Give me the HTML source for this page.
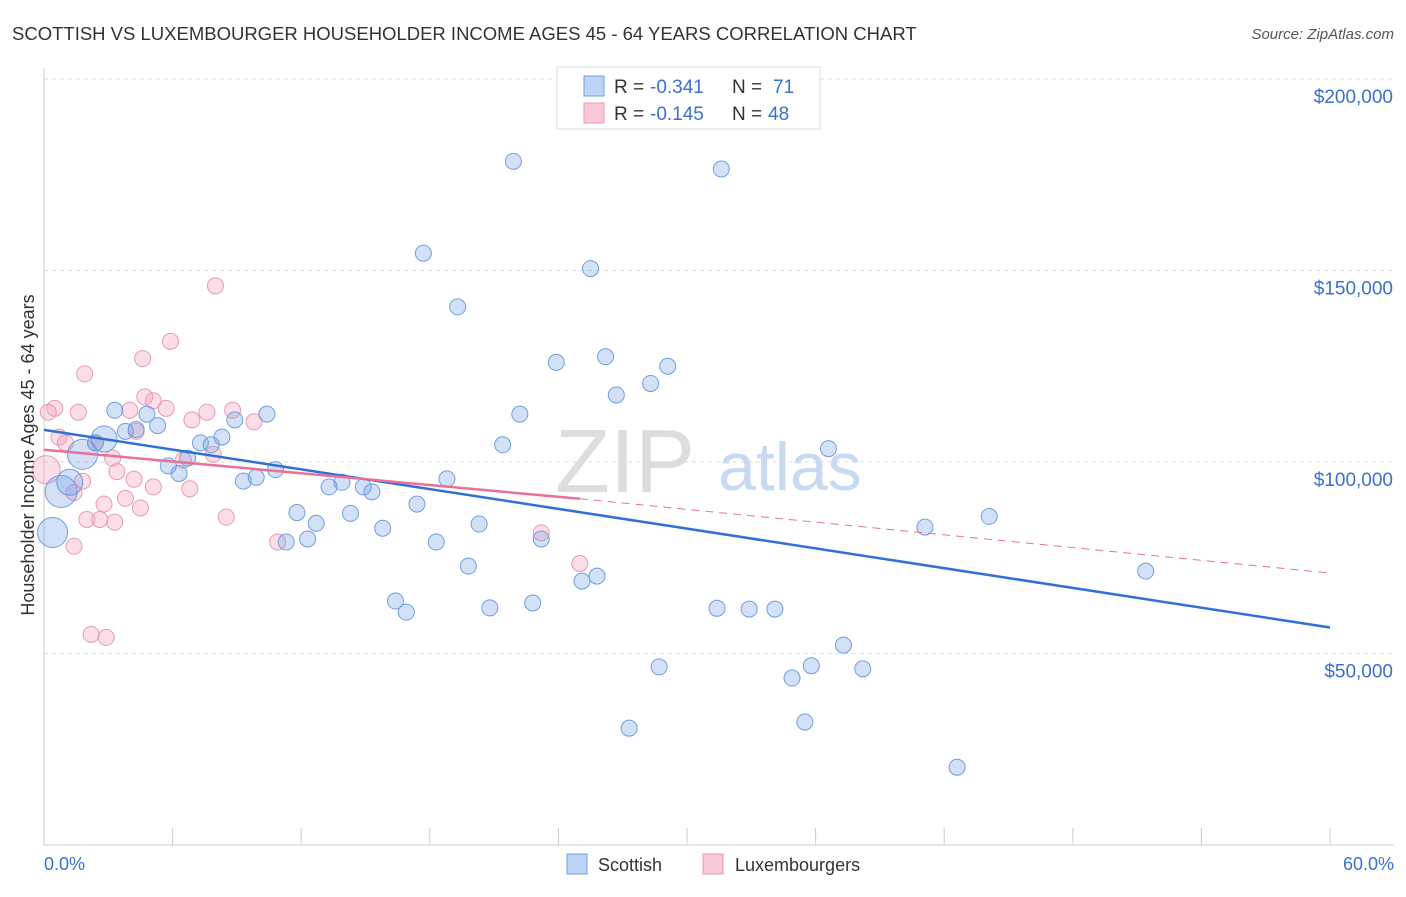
<!DOCTYPE html>
<html><head><meta charset="utf-8"><style>
body{margin:0;background:#fff;font-family:"Liberation Sans",sans-serif;}
svg text{font-family:"Liberation Sans",sans-serif;}
</style></head><body>
<svg id="chart" width="1406" height="892" xmlns="http://www.w3.org/2000/svg">
<text x="12" y="40" font-size="18.5" fill="#333">SCOTTISH VS LUXEMBOURGER HOUSEHOLDER INCOME AGES 45 - 64 YEARS CORRELATION CHART</text>
<text x="1394" y="39" font-size="15" fill="#555" text-anchor="end" font-style="italic">Source: ZipAtlas.com</text>
<g><text x="555" y="492" font-size="90" fill="#ddd" font-family="Liberation Serif">ZIP</text><text x="718" y="490" font-size="68" fill="#c8daf2">atlas</text></g>
<g id="grid"></g><g id="axes"></g><g id="pts"></g><g id="trend"></g>
<text transform="translate(34,455) rotate(-90)" font-size="18" fill="#333" text-anchor="middle">Householder Income Ages 45 - 64 years</text>
<text x="44" y="870" font-size="18" fill="#3b6fd0">0.0%</text>
<text x="1394" y="870" font-size="18" fill="#3b6fd0" text-anchor="end">60.0%</text>
<g>
<rect x="557" y="67" width="263" height="62" fill="#fff" stroke="#ddd"/>
<rect x="584" y="76" width="20" height="20" fill="#bcd4f6" stroke="#6f9fe0"/>
<text x="614" y="93" font-size="19" fill="#333">R = </text><text x="650" y="93" font-size="19" fill="#3b6fd0">-0.341</text>
<text x="732" y="93" font-size="19" fill="#333">N = </text><text x="773" y="93" font-size="19" fill="#3b6fd0">71</text>
<rect x="584" y="103" width="20" height="20" fill="#f8c8d8" stroke="#e89ab5"/>
<text x="614" y="120" font-size="19" fill="#333">R = </text><text x="650" y="120" font-size="19" fill="#3b6fd0">-0.145</text>
<text x="732" y="120" font-size="19" fill="#333">N = </text><text x="768" y="120" font-size="19" fill="#3b6fd0">48</text>
</g>
<g>
<rect x="567" y="854" width="20" height="20" fill="#bcd4f6" stroke="#6f9fe0"/>
<text x="598" y="871" font-size="18" fill="#333">Scottish</text>
<rect x="703" y="854" width="20" height="20" fill="#f8c8d8" stroke="#e89ab5"/>
<text x="735" y="871" font-size="18" fill="#333">Luxembourgers</text>
</g>
</svg>
<script>
const yTicks=[50000,100000,150000,200000];
const yTickLabels=["$50,000","$100,000","$150,000","$200,000"];
const scottishX=[21.9,31.6,17.7,25.5,19.3,23.9,26.2,29.1,28.3,26.7,22.2,21.4,36.6,10.4,8.9,4.8,3.3,5.3,3.8,4.3,2.8,2.4,1.8,7.3,7.8,8.3,6.7,5.8,6.3,10.8,9.3,9.9,13.3,13.9,14.9,15.3,18.8,17.4,11.8,12.7,14.3,15.8,11.3,12.3,18.3,20.3,23.2,19.8,25.8,25.1,16.4,16.9,20.8,22.8,31.4,32.9,34.1,37.3,28.7,35.8,38.2,34.9,35.5,27.3,42.6,41.1,44.1,51.4,1.2,0.8,0.4];
const scottishY=[178500,176500,154500,150500,140500,126000,127500,125000,120500,117500,112500,104500,103500,112500,111000,112500,113500,109500,108000,108500,106000,105000,102000,105000,104500,106500,101000,99000,97000,98000,95000,96000,93500,94700,93500,92200,95600,89000,86800,84000,86600,82700,79100,79900,79100,83800,79900,72800,70200,68900,63700,60800,61900,63200,61800,61600,61600,52200,46500,46800,46000,43600,32100,30500,20300,83000,85800,71500,94700,92300,81600];
const scottishR=[8,8,8,8,8,8,8,8,8,8,8,8,8,8,8,8,8,8,8,8,13,8,15,8,8,8,8,8,8,8,8,8,8,8,8,8,8,8,8,8,8,8,8,8,8,8,8,8,8,8,8,8,8,8,8,8,8,8,8,8,8,8,8,8,8,8,8,8,13,16,15];
const luxX=[8.0,5.9,4.6,1.9,4.7,5.1,0.5,0.2,1.6,5.7,4.0,7.6,8.8,6.9,9.8,0.7,1.0,2.4,4.3,3.2,6.5,3.4,7.9,4.2,5.1,6.8,1.8,1.4,2.8,3.8,4.5,2.0,2.6,3.3,8.5,10.9,1.4,2.2,2.9,23.2,25.0,0.1];
const luxY=[146000,131500,127000,123000,117000,116000,114000,113000,113000,114000,113500,113000,113500,111000,110500,106500,105000,105000,108000,101000,100500,97500,102000,95500,93500,93000,95000,92000,89000,90500,88000,85000,85000,84300,85600,79100,78000,55000,54200,81500,73500,98000];
const luxR=[8,8,8,8,8,8,8,8,8,8,8,8,8,8,8,8,8,8,8,8,8,8,8,8,8,8,8,8,8,8,8,8,8,8,8,8,8,8,8,8,8,14];
const blueTrend=[[0,108400],[60,56800]];
const pinkTrend=[[0,103200],[25,90400],[60,71000]];
const X=p=>44+p/60*1286, Y=v=>845-v/100000*383;
const NS="http://www.w3.org/2000/svg";
function mk(t,a,parent){const e=document.createElementNS(NS,t);for(const k in a)e.setAttribute(k,a[k]);document.getElementById(parent).appendChild(e);return e;}
yTicks.forEach((v,i)=>{
 const l=mk('line',{x1:44,x2:1394,y1:Y(v),y2:Y(v),stroke:'#ddd','stroke-dasharray':'4,4'},'grid');
 
 
 const t=mk('text',{x:1393,y:Y(v)+24,'font-size':19,fill:'#3b6fd0','text-anchor':'end'},'grid');
 t.textContent=yTickLabels[i];
 
 
});
const ax=mk('line',{x1:44,x2:1394,y1:845,y2:845,stroke:'#ccc'},'axes');


const ay=mk('line',{x1:44,x2:44,y1:68,y2:845,stroke:'#ccc'},'axes');


for(let i=0;i<=10;i++){const t=mk('line',{x1:X(i*6),x2:X(i*6),y1:828,y2:845,stroke:'#ccc'},'axes');
 
 }
luxX.forEach((x,i)=>{const c=mk('circle',{cx:X(x),cy:Y(luxY[i]),r:luxR[i],fill:'rgba(244,160,190,0.35)',stroke:'#e89ab5','stroke-width':1},'pts');
 
 });
scottishX.forEach((x,i)=>{const c=mk('circle',{cx:X(x),cy:Y(scottishY[i]),r:scottishR[i],fill:'rgba(110,155,230,0.3)',stroke:'#6f9fe0','stroke-width':1},'pts');
 
 });
const bl=mk('line',{x1:X(blueTrend[0][0]),y1:Y(blueTrend[0][1]),x2:X(blueTrend[1][0]),y2:Y(blueTrend[1][1]),stroke:'#2f6fd6','stroke-width':2.5},'trend');


const p1=mk('line',{x1:X(pinkTrend[0][0]),y1:Y(pinkTrend[0][1]),x2:X(pinkTrend[1][0]),y2:Y(pinkTrend[1][1]),stroke:'#e8709a','stroke-width':2.5},'trend');


const p2=mk('line',{x1:X(pinkTrend[1][0]),y1:Y(pinkTrend[1][1]),x2:X(pinkTrend[2][0]),y2:Y(pinkTrend[2][1]),stroke:'#e8709a','stroke-width':1,'stroke-dasharray':'8,6'},'trend');


</script>
</body></html>
